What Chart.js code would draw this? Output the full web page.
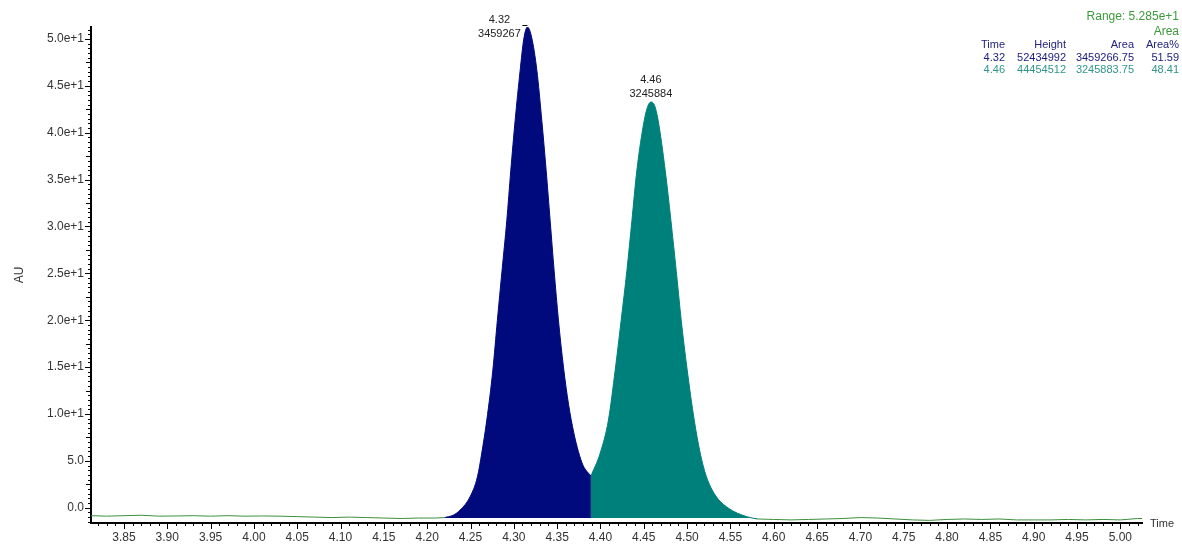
<!DOCTYPE html>
<html>
<head>
<meta charset="utf-8">
<title>Chromatogram</title>
<script src="https://cdn.jsdelivr.net/npm/chart.js@4.4.0/dist/chart.umd.min.js"></script>
<style>
  body { margin: 0; background: #fff; }
  #wrap { width: 1182px; height: 544px; }
</style>
</head>
<body>
<div id="wrap"><canvas id="chromChart" width="1182" height="544"></canvas></div>
<script>
"use strict";

// Signal (time in min, AU)
const times = [
  3.812, 3.83, 3.85, 3.87, 3.89, 3.91, 3.93, 3.95, 3.97, 3.99, 4.01, 4.03, 4.05, 4.07, 4.09, 4.11, 4.13, 4.15, 4.17, 4.19, 4.21,
  4.22, 4.23, 4.238, 4.2495, 4.258, 4.263, 4.2688, 4.2758, 4.281, 4.2864, 4.2919, 4.2965, 4.3015, 4.3073, 4.3115, 4.3157,
  4.3205, 4.3266, 4.3323, 4.3373, 4.3419, 4.3465, 4.3515, 4.3573, 4.3632, 4.3692, 4.3745, 4.38, 4.389,
  4.3997, 4.4092, 4.417, 4.4239, 4.4305, 4.4363, 4.442, 4.4505, 4.4545, 4.4582, 4.4625, 4.4666, 4.4747, 4.4813, 4.4874,
  4.4932, 4.5001, 4.5082, 4.5151, 4.522, 4.5324, 4.5474, 4.569, 4.581,
  4.60, 4.62, 4.64, 4.66, 4.68, 4.70, 4.72, 4.74, 4.76, 4.78, 4.80, 4.82, 4.84, 4.86, 4.88, 4.90, 4.92, 4.94, 4.96, 4.98, 5.00, 5.02, 5.025
];
const signal = [
  -0.85, -0.9, -0.85, -0.8, -0.9, -0.88, -0.85, -0.9, -0.85, -0.9, -0.88, -0.9, -0.95, -1.0, -1.05, -1.0, -1.05, -1.1, -1.15, -1.1, -1.1,
  -1.05, -0.8, -0.25, 1.17, 3.3, 5.83, 9.35, 14.68, 20.0, 25.3, 30.65, 35.99, 41.3, 46.65, 50.0, 51.28,
  50.2, 46.65, 41.3, 35.99, 30.65, 25.3, 20.0, 15.0, 11.0, 8.0, 6.0, 4.5, 3.38,
  5.83, 9.35, 14.68, 20.0, 25.3, 30.65, 35.99, 41.3, 42.8, 43.28, 42.9, 41.3, 35.99, 30.65, 25.3,
  20.0, 14.68, 9.35, 5.83, 3.38, 1.35, -0.03, -0.96, -1.2,
  -1.25, -1.3, -1.25, -1.2, -1.15, -1.05, -1.1, -1.2, -1.3, -1.35, -1.25, -1.2, -1.25, -1.2, -1.3, -1.3, -1.3, -1.25, -1.3, -1.25, -1.3, -1.15, -1.15
];

// Peak integration limits and fill baseline
const peakStarts = [4.22, 4.389];
const peakEnds = [4.389, 4.581];
const fillBase = -1.1;

// Peak table
const peakTimes = ["4.32", "4.46"];
const peakHeights = ["52434992", "44454512"];
const peakAreas = ["3459266.75", "3245883.75"];
const peakAreaPct = ["51.59", "48.41"];
const peakLabels = ["3459267", "3245884"];
const rangeText = "Range: 5.285e+1";

// Axes
const xMin = 3.812, xMax = 5.025;
const yMin = -1.63, yMax = 51.28;

const navy = "#000a7c";
const teal = "#00807a";
const green = "#3d8f3d";
const peakColors = [navy, teal];
const FONT = '"Liberation Sans", Arial, sans-serif';

function pointsBetween(a, b) {
    let pts = [];
    times.forEach((t, i) => {
        if (t >= a && t <= b) pts.push({ x: t, y: signal[i] });
    });
    return pts;
}

function apexOf(pts) {
    return pts.reduce((m, p) => (p.y > m.y ? p : m), pts[0]);
}

const leftBase = pointsBetween(xMin, peakStarts[0]);
const rightBase = pointsBetween(peakEnds[1], xMax);
const peakData = [pointsBetween(peakStarts[0], peakEnds[0]), pointsBetween(peakStarts[1], peakEnds[1])];

// Tick marks, peak labels and peak table
const overlay = {
    id: "overlay",
    afterDraw(chart) {
        const ctx = chart.ctx;
        const xs = chart.scales.x;
        const ys = chart.scales.y;
        const area = chart.chartArea;
        ctx.save();
        ctx.strokeStyle = "#000";
        ctx.lineWidth = 1;

        for (let i = Math.ceil(xMin * 100); i <= Math.floor(xMax * 100); i++) {
            const px = Math.round(xs.getPixelForValue(i / 100)) + 0.5;
            const len = i % 5 === 0 ? 6 : 3;
            ctx.beginPath();
            ctx.moveTo(px, area.bottom);
            ctx.lineTo(px, area.bottom + len);
            ctx.stroke();
        }
        for (let i = Math.ceil(yMin * 2); i <= Math.floor(yMax * 2); i++) {
            const py = Math.round(ys.getPixelForValue(i / 2)) + 0.5;
            const len = i % 10 === 0 ? 6 : (i % 5 === 0 ? 5 : 3);
            ctx.beginPath();
            ctx.moveTo(area.left, py);
            ctx.lineTo(area.left - len, py);
            ctx.stroke();
        }

        // Axis titles
        ctx.fillStyle = "#333";
        ctx.font = "11px " + FONT;
        ctx.textBaseline = "middle";
        ctx.textAlign = "left";
        ctx.fillText("Time", area.right + 8, area.bottom + 1);
        ctx.save();
        ctx.font = "12px " + FONT;
        ctx.translate(20, (area.top + area.bottom) / 2);
        ctx.rotate(-Math.PI / 2);
        ctx.textAlign = "center";
        ctx.fillText("AU", 0, 0);
        ctx.restore();

        // Peak labels
        const offsets = [[-28, -7, 7], [0, -22, -8]];
        ctx.font = "11px " + FONT;
        ctx.textAlign = "center";
        peakData.forEach((pts, i) => {
            const top = apexOf(pts);
            const px = xs.getPixelForValue(top.x);
            const py = ys.getPixelForValue(top.y);
            ctx.fillStyle = "#222";
            ctx.fillText(peakTimes[i], px + offsets[i][0], py + offsets[i][1]);
            ctx.fillText(peakLabels[i], px + offsets[i][0], py + offsets[i][2]);
        });
        const top1 = apexOf(peakData[0]);
        const mx = xs.getPixelForValue(top1.x);
        const my = Math.round(ys.getPixelForValue(top1.y)) - 1.5;
        ctx.beginPath();
        ctx.moveTo(mx - 5, my);
        ctx.lineTo(mx, my);
        ctx.stroke();

        // Peak table
        const cols = [1005, 1066, 1134, 1179];
        ctx.textAlign = "right";
        ctx.fillStyle = "#3c9a3c";
        ctx.font = "12px " + FONT;
        ctx.fillText(rangeText, cols[3], 17);
        ctx.fillText("Area", cols[3], 31.5);
        ctx.font = "11px " + FONT;
        ctx.fillStyle = "#23237e";
        ["Time", "Height", "Area", "Area%"].forEach((h, c) => ctx.fillText(h, cols[c], 44.5));
        const rowColors = ["#1a1a7c", "#2f9588"];
        for (let r = 0; r < peakTimes.length; r++) {
            ctx.fillStyle = rowColors[r];
            const row = [peakTimes[r], peakHeights[r], peakAreas[r], peakAreaPct[r]];
            row.forEach((v, c) => ctx.fillText(v, cols[c], 57.5 + r * 12.8));
        }
        ctx.restore();
    }
};

const ctx = document.getElementById("chromChart");

new Chart(ctx, {
    type: "line",
    data: {
        datasets: [
            { data: leftBase, borderColor: green, borderWidth: 1, pointRadius: 0, fill: false },
            { data: rightBase, borderColor: green, borderWidth: 1, pointRadius: 0, fill: false },
            {
                data: peakData[0], borderColor: peakColors[0], backgroundColor: peakColors[0],
                borderWidth: 1, pointRadius: 0, cubicInterpolationMode: "monotone", fill: { value: fillBase }
            },
            {
                data: peakData[1], borderColor: peakColors[1], backgroundColor: peakColors[1],
                borderWidth: 1, pointRadius: 0, cubicInterpolationMode: "monotone", fill: { value: fillBase }
            }
        ]
    },
    options: {
        responsive: false,
        animation: false,
        layout: { padding: { top: 27, right: 40, left: 0, bottom: 0 } },
        plugins: { legend: { display: false }, tooltip: { enabled: false } },
        scales: {
            x: {
                type: "linear",
                min: xMin,
                max: xMax,
                grid: { display: false, drawTicks: true, tickLength: 6 },
                border: { display: true, color: "#000", width: 2 },
                ticks: {
                    stepSize: 0.05,
                    includeBounds: false,
                    autoSkip: false,
                    maxRotation: 0,
                    padding: 1,
                    color: "#333",
                    font: { family: FONT, size: 12 },
                    callback: (v) => v.toFixed(2)
                },
                afterFit: (scale) => { scale.height = 21; }
            },
            y: {
                min: yMin,
                max: yMax,
                grid: { display: false, drawTicks: true, tickLength: 6 },
                border: { display: true, color: "#000", width: 2 },
                ticks: {
                    stepSize: 5,
                    includeBounds: false,
                    padding: 1,
                    color: "#333",
                    font: { family: FONT, size: 12 },
                    callback: (v) => (Math.abs(v) < 10 ? v.toFixed(1) : (v / 10).toFixed(1) + "e+1")
                },
                afterFit: (scale) => { scale.width = 91; }
            }
        }
    },
    plugins: [overlay]
});
</script>
</body>
</html>
